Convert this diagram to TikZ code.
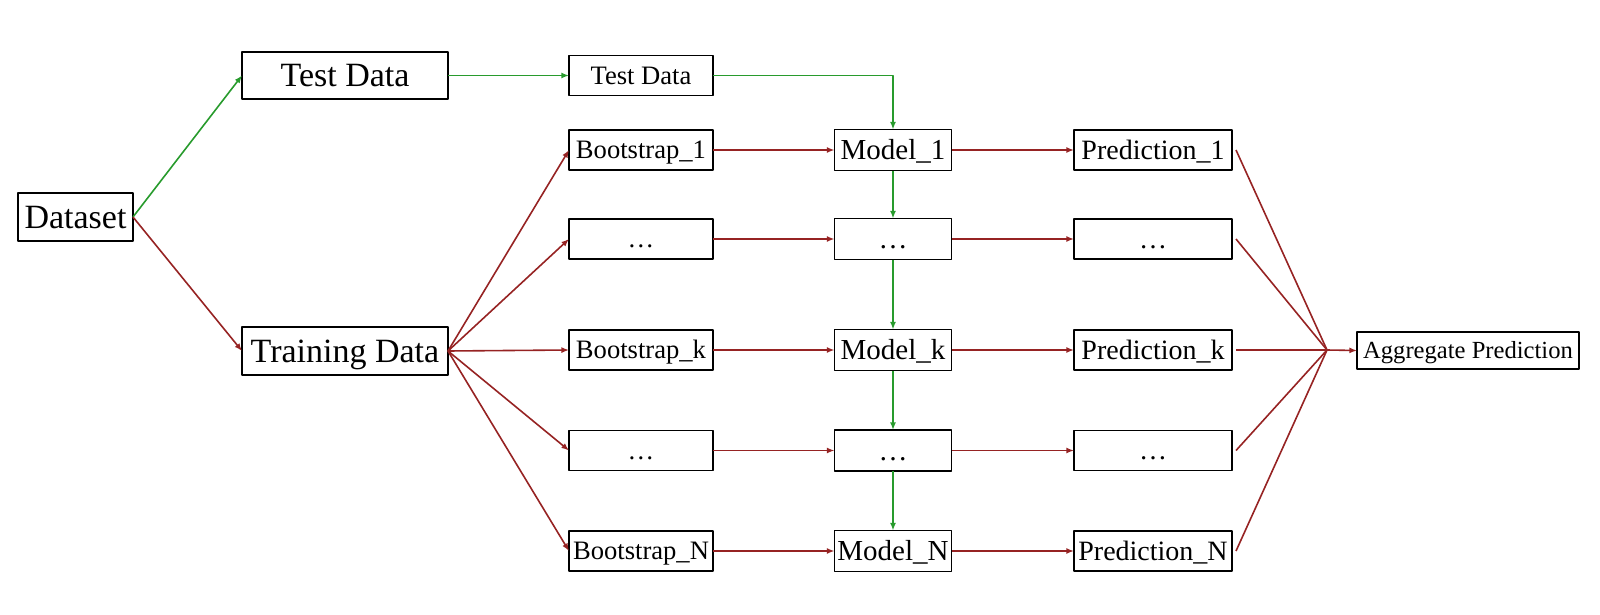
\documentclass[tikz,border=0pt]{standalone}
\usepackage{fontspec}
\setmainfont{Liberation Serif}
\usetikzlibrary{arrows.meta}
\definecolor{testgreen}{RGB}{40,155,45}
\definecolor{trainred}{RGB}{150,35,35}
\tikzset{
	box/.style={draw, line width=0.75pt, inner sep=0pt, outer sep=0pt, text depth=0pt},
	bigbox/.style={box, minimum width=103pt, minimum height=23.5pt, text height=11.2pt, font=\fontsize{17pt}{20pt}\selectfont},
	bootbox/.style={box, minimum width=72pt, minimum height=20pt, text height=8.8pt, font=\fontsize{13.3pt}{16pt}\selectfont},
	modelbox/.style={box, minimum width=58.5pt, minimum height=20.5pt, text height=9.6pt, font=\fontsize{14.5pt}{17pt}\selectfont},
	predbox/.style={box, minimum width=79pt, minimum height=20pt, text height=9.2pt, font=\fontsize{14pt}{17pt}\selectfont},
	aggbox/.style={box, minimum width=111pt, minimum height=18.5pt, text height=8.1pt, font=\fontsize{12.3pt}{15pt}\selectfont},
	greenarrow/.style={testgreen, line width=0.8pt, -{Latex[length=3.8pt, width=3pt]}},
	redarrow/.style={trainred, line width=0.8pt, -{Latex[length=3.8pt, width=3pt]}},
	redline/.style={trainred, line width=0.8pt}
}
\begin{document}
\begin{tikzpicture}[x=0.5pt, y=-0.5pt, line join=round]
	\useasboundingbox (0,0) rectangle (1600,615);
	\def\xboot{641} \def\xmodel{893} \def\xpred{1153}
	% split of the data
	\node[bigbox, minimum width=57.5pt, minimum height=24pt] (dataset) at (75.5,217) {Dataset};
	\node[bigbox] (testbig) at (345,75.5) {Test Data};
	\node[bigbox, minimum height=24pt] (train) at (345,351) {Training Data};
	\node[bootbox] (testsmall) at (\xboot,75.5) {Test Data};
	\node[aggbox] (agg) at (1468,350.5) {Aggregate Prediction};
	\coordinate (hub) at (1327,350);
	\draw[greenarrow] (dataset.east) -- (testbig.west);
	\draw[redarrow] (dataset.east) -- (train.west);
	\draw[greenarrow] (testbig.east) -- (testsmall.west);
	% bootstrap rows
	\foreach \r/\y/\labB/\labM/\labP in {1/150/Bootstrap\_1/Model\_1/Prediction\_1,
		2/239/\dots/\dots/\dots, 3/350/Bootstrap\_k/Model\_k/Prediction\_k,
		4/450.5/\dots/\dots/\dots, 5/551/Bootstrap\_N/Model\_N/Prediction\_N}{
		\node[bootbox] (b\r) at (\xboot,\y) {\labB};
		\node[modelbox] (m\r) at (\xmodel,\y) {\labM};
		\node[predbox] (p\r) at (\xpred,\y) {\labP};
		\draw[redarrow] (train.east) -- (b\r.west);
		\draw[redarrow] (b\r.east) -- (m\r.west);
		\draw[redarrow] (m\r.east) -- (p\r.west);
		\draw[redline] ([xshift=2pt]p\r.east) -- (hub);
	}
	% test data passed down the models
	\draw[greenarrow] (testsmall.east) -| (m1.north);
	\foreach \r [count=\s from 2] in {1,...,4}
		\draw[greenarrow] (m\r.south) -- (m\s.north);
	\draw[redarrow] (hub) -- (agg.west);
\end{tikzpicture}
\end{document}
